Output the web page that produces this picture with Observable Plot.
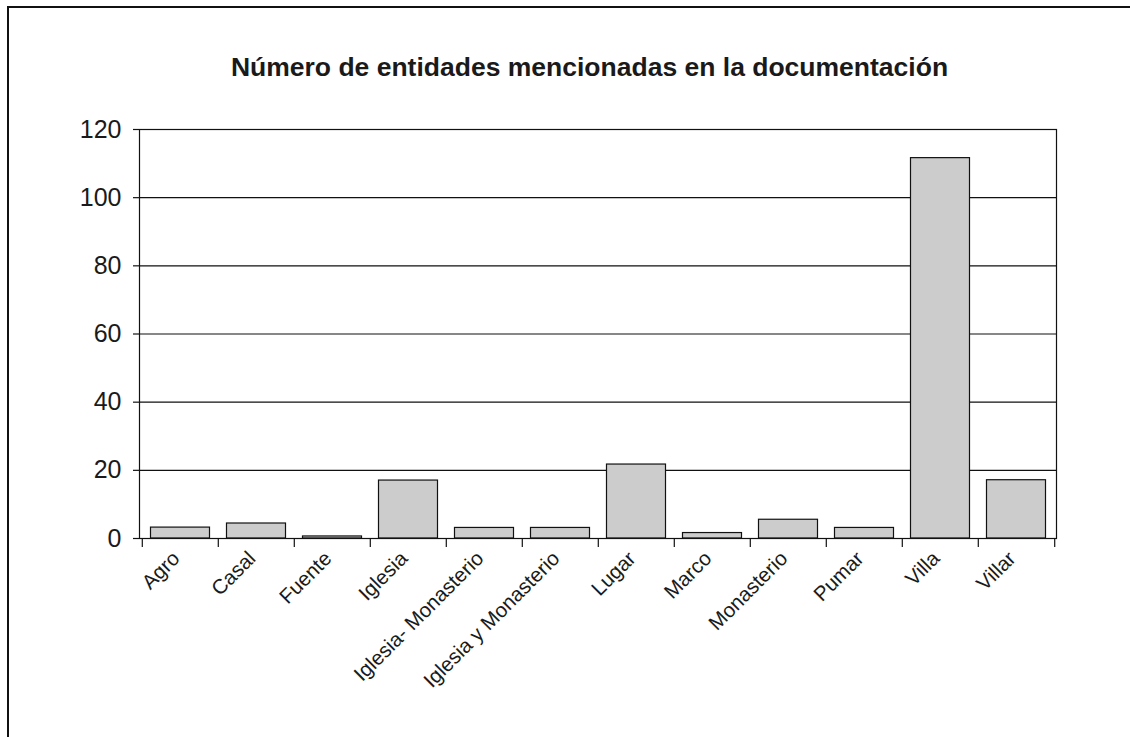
<!DOCTYPE html>
<html>
<head>
<meta charset="utf-8">
<script src="https://cdn.jsdelivr.net/npm/d3@7"></script>
<script src="https://cdn.jsdelivr.net/npm/@observablehq/plot@0.6"></script>
<style>
  html, body { margin: 0; padding: 0; background: #fff; }
  #wrap { position: relative; width: 1130px; height: 737px; overflow: hidden; font-family: Arial, "Liberation Sans", sans-serif; }
  #frame { position: absolute; left: 7px; top: 6px; width: 1140px; height: 760px; border-top: 2px solid #111; border-left: 2px solid #111; box-sizing: border-box; }
  #title { position: absolute; left: 0; width: 1179px; top: 52px; text-align: center; font-weight: bold; font-size: 26.5px; color: #1a1a1a; }
  #chart { position: absolute; left: 0; top: 0; }
</style>
</head>
<body>
<div id="wrap">
  <div id="frame"></div>
  <div id="title">Número de entidades mencionadas en la documentación</div>
  <div id="chart"></div>
</div>
<script>
const categories = ["Agro", "Casal", "Fuente", "Iglesia", "Iglesia- Monasterio", "Iglesia y Monasterio", "Lugar", "Marco", "Monasterio", "Pumar", "Villa", "Villar"];
const values = [3.2, 4.4, 0.6, 17, 3.1, 3.1, 21.7, 1.6, 5.5, 3.1, 111.6, 17.1];
const yTicks = [0, 20, 40, 60, 80, 100, 120];

const data = categories.map((c, i) => ({category: c, value: values[i]}));
const halfStep = (1056 - 139) / categories.length / 2;

const chart = Plot.plot({
  width: 1130,
  height: 737,
  marginLeft: 139,
  marginRight: 74,
  marginTop: 129,
  marginBottom: 199,
  style: {background: "transparent", fontFamily: "Arial, 'Liberation Sans', sans-serif", color: "#1a1a1a"},
  x: {domain: categories, padding: 0},
  y: {domain: [0, 120], ticks: yTicks},
  marks: [
    Plot.ruleY(yTicks.filter(d => d > 0), {stroke: "#111", strokeWidth: 1.2}),
    Plot.barY(data, {x: "category", y: "value", fill: "#cccccc", stroke: "#111", strokeWidth: 1.2, insetLeft: 8.5, insetRight: 8.5}),
    Plot.frame({stroke: "#111", strokeWidth: 1.2}),
    Plot.axisY({ticks: yTicks, tickSize: 6, tickPadding: 12, fontSize: 25, stroke: "#111", strokeWidth: 1.2, label: null}),
    Plot.axisX({tickSize: 9, dx: -halfStep, text: null, stroke: "#111", strokeWidth: 1.2, label: null}),
    Plot.axisX({ticks: [categories[categories.length - 1]], tickSize: 9, dx: halfStep, text: null, stroke: "#111", strokeWidth: 1.2, label: null}),
    Plot.text(categories, {x: d => d, frameAnchor: "bottom", dy: 11, dx: -10, rotate: -45, textAnchor: "end", lineAnchor: "top", fontSize: 20.5, fill: "#1a1a1a"})
  ]
});
document.getElementById("chart").appendChild(chart);
</script>
</body>
</html>
